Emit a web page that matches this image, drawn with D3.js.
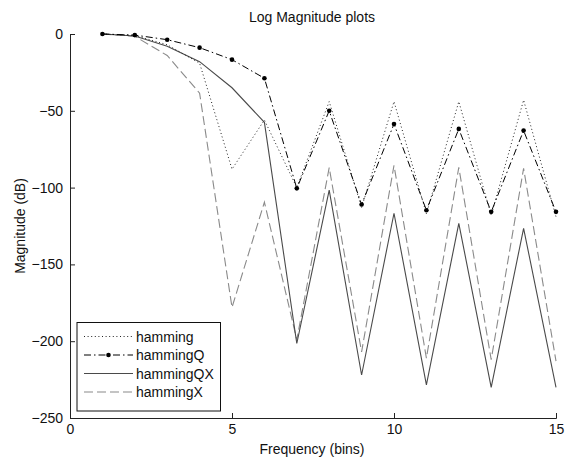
<!DOCTYPE html>
<html><head><meta charset="utf-8">
<script src="https://cdn.jsdelivr.net/npm/d3@7/dist/d3.min.js"></script>
<style>html,body{margin:0;padding:0;background:#fff;}svg{display:block;font-family:"Liberation Sans",Arial,sans-serif;}</style>
</head><body>
<svg id="c" width="566" height="458"></svg>
<script>
const bins = [1,2,3,4,5,6,7,8,9,10,11,12,13,14,15];
const hamming   = [0,-1,-7,-19,-88,-56,-100,-44,-113,-44,-117,-44,-118,-43,-119];
const hammingQ  = [0,-0.7,-3.7,-8.9,-16.7,-28.8,-100.5,-50,-111,-58.6,-114.7,-61.8,-115.8,-62.9,-115.8];
const hammingQX = [0,-1.3,-8,-18,-35,-57.5,-201.5,-101.7,-222,-116.7,-228.5,-123.3,-230,-126.5,-230];
const hammingX  = [0,-1.5,-14,-38.5,-178,-109.5,-199,-87,-207,-85.5,-211,-86.8,-212,-87.5,-213];
const xTicks = [0,5,10,15];
const yTicks = [0,-50,-100,-150,-200,-250];
const seriesNames = ["hamming","hammingQ","hammingQX","hammingX"];

const svg = d3.select("#c");
const x = d3.scaleLinear().domain([0,15]).range([70,556]);
const y = d3.scaleLinear().domain([-250,0]).range([418,34]);

const styles = {
  hamming:   {color:"#222", dash:"1,2.6", width:1},
  hammingQ:  {color:"#000", dash:"7,3,1.5,3", width:1},
  hammingQX: {color:"#4a4a4a", dash:null, width:1.1},
  hammingX:  {color:"#8a8a8a", dash:"9,4", width:1.1}
};
const data = {hamming, hammingQ, hammingQX, hammingX};

// axes
const xAxis = d3.axisBottom(x).tickValues(xTicks).tickSize(-5).tickPadding(10).tickFormat(d3.format("d"));
const yAxis = d3.axisLeft(y).tickValues(yTicks).tickSize(-5).tickPadding(10).tickFormat(d3.format("d"));
const gx = svg.append("g").attr("transform","translate(0,418)").call(xAxis);
const gy = svg.append("g").attr("transform","translate(70,0)").call(yAxis);
[gx,gy].forEach(g=>{
  g.select(".domain").attr("stroke","#222");
  g.selectAll(".tick line").attr("stroke","#222");
  g.selectAll(".tick text").attr("fill","#111").style("font-size","14px").style("font-family","'Liberation Sans',Arial,sans-serif");
});
gy.selectAll(".tick text").attr("x",-7);
gx.selectAll(".tick text").attr("y",6);

// lines
const line = d3.line().x((d,i)=>x(bins[i])).y(d=>y(d));
["hammingX","hammingQX","hamming","hammingQ"].forEach(n=>{
  const s = styles[n];
  svg.append("path").datum(data[n]).attr("d",line)
    .attr("fill","none").attr("stroke",s.color).attr("stroke-width",s.width)
    .attr("stroke-dasharray",s.dash);
});
svg.append("g").selectAll("circle").data(hammingQ).join("circle")
  .attr("cx",(d,i)=>x(bins[i])).attr("cy",d=>y(d)).attr("r",2.3).attr("fill","#000");

// title and labels
svg.append("text").attr("x",312).attr("y",22).attr("text-anchor","middle")
  .style("font-size","14px").attr("fill","#111").text("Log Magnitude plots");
svg.append("text").attr("x",312).attr("y",454).attr("text-anchor","middle")
  .style("font-size","14px").attr("fill","#111").text("Frequency (bins)");
svg.append("text").attr("transform","translate(25,226) rotate(-90)").attr("text-anchor","middle")
  .style("font-size","14px").attr("fill","#111").text("Magnitude (dB)");

// legend
const lg = svg.append("g");
lg.append("rect").attr("x",77).attr("y",322.5).attr("width",143.5).attr("height",88.5)
  .attr("fill","#fff").attr("stroke","#111").attr("stroke-width",1);
seriesNames.forEach((n,i)=>{
  const yy = 336.5 + i*18.5;
  const s = styles[n];
  lg.append("line").attr("x1",84).attr("x2",133).attr("y1",yy).attr("y2",yy)
    .attr("stroke",s.color).attr("stroke-width",s.width).attr("stroke-dasharray",s.dash);
  if(n==="hammingQ") lg.append("circle").attr("cx",108.5).attr("cy",yy).attr("r",2.3).attr("fill","#000");
  lg.append("text").attr("x",136).attr("y",yy+5).style("font-size","14px").attr("fill","#111").text(n);
});
</script>
</body></html>
